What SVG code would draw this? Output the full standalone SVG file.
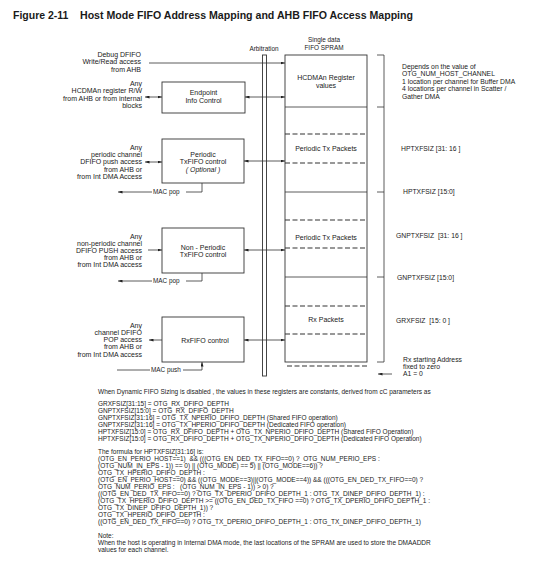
<svg xmlns="http://www.w3.org/2000/svg" width="554" height="565" viewBox="0 0 554 565">
<defs>
<style>
text{font-family:"Liberation Sans",Arial,sans-serif;fill:#1a1a1a;white-space:pre}
.t{font-size:7px}
.r{font-size:6.8px}
.s{font-size:6.4px}
.b{font-size:6.5px}
.e{text-anchor:end}
.m{text-anchor:middle}
.ln{stroke:#333;stroke-width:0.8;fill:none}
.box{stroke:#333;stroke-width:0.9;fill:#fff}
.dash{stroke:#333;stroke-width:1.1;stroke-dasharray:5 2.5;fill:none}
.a1{marker-end:url(#ah)}
.a2{marker-start:url(#ah);marker-end:url(#ah)}
</style>
<marker id="ah" viewBox="0 0 6 4" refX="6" refY="2" markerWidth="4.5" markerHeight="3" markerUnits="userSpaceOnUse" orient="auto-start-reverse"><path d="M0,0 L6,2 L0,4 z" fill="#222"/></marker>
</defs>
<rect width="554" height="565" fill="#fff"/>
<g id="title">
<text x="13" y="19" style="font-size:10.5px;font-weight:bold">Figure 2-11</text>
<text x="80" y="19" style="font-size:10.5px;font-weight:bold" textLength="333" lengthAdjust="spacingAndGlyphs">Host Mode FIFO Address Mapping and AHB FIFO Access Mapping</text>
</g>
<g id="arbitration">
<text class="s m" x="264" y="51">Arbitration</text>
<rect class="box" x="262.5" y="55" width="4" height="321"/>
</g>
<g id="spram">
<text class="s m" x="324" y="42">Single data</text>
<text class="s m" x="324" y="50">FIFO SPRAM</text>
<rect class="box" x="285" y="55" width="82" height="307"/>
<path class="ln" d="M285,107H367M285,192H367M285,277H367"/>
<path class="dash" d="M285,134H367M285,163H367M285,220H367M285,248H367M285,306H367M285,334H367M287,366H367"/>
<text class="t m" x="326" y="80">HCDMAn Register</text>
<text class="t m" x="326" y="88">values</text>
<text class="t m" x="326" y="150.5">Periodic Tx Packets</text>
<text class="t m" x="326" y="239.5">Periodic Tx Packets</text>
<text class="t m" x="326" y="321.5">Rx Packets</text>
</g>
<g id="bracket">
<path class="ln" d="M377,55H384V362H377M377,107H384M377,192H384M377,277H384"/>
<text class="r" x="402" y="68.5">Depends on the value of</text>
<text class="r" x="402" y="76">OTG_NUM_HOST_CHANNEL</text>
<text class="r" x="402" y="83.5">1 location per channel for Buffer DMA</text>
<text class="r" x="402" y="91">4 locations per channel in Scatter /</text>
<text class="r" x="402" y="98.5">Gather DMA</text>
<text class="r" x="401" y="150.5">HPTXFSIZ [31: 16 ]</text>
<text class="r" x="403" y="193.5">HPTXFSIZ [15:0]</text>
<text class="r" x="396" y="237.5">GNPTXFSIZ  [31: 16 ]</text>
<text class="r" x="397" y="279.5">GNPTXFSIZ [15:0]</text>
<text class="r" x="396" y="322.5">GRXFSIZ  [15: 0 ]</text>
<text class="r" x="403" y="361.5">Rx starting Address</text>
<text class="r" x="403" y="369">fixed to zero</text>
<text class="r" x="403" y="376">A1 = 0</text>
</g>
<g id="debug">
<text class="t e" x="141" y="56.5">Debug DFIFO</text>
<text class="t e" x="141" y="64">Write/Read access</text>
<text class="t e" x="141" y="71.5">from AHB</text>
</g>
<g id="endpoint">
<rect class="box" x="162" y="82" width="83" height="31"/>
<text class="t m" x="203.5" y="94.5">Endpoint</text>
<text class="t m" x="203.5" y="102.5">Info Control</text>
<text class="t e" x="142" y="85.5">Any</text>
<text class="t e" x="142" y="93">HCDMAn register R/W</text>
<text class="t e" x="142" y="100.5">from AHB or from internal</text>
<text class="t e" x="142" y="108">blocks</text>
</g>
<g id="periodic">
<rect class="box" x="162" y="139" width="82" height="44"/>
<text class="t m" x="203" y="156.5">Periodic</text>
<text class="t m" x="203" y="164">TxFIFO control</text>
<text class="t m" x="203" y="171.5" style="font-style:italic">( Optional )</text>
<text class="t e" x="142" y="149.5">Any</text>
<text class="t e" x="142" y="156.5">periodic channel</text>
<text class="t e" x="142" y="164">DFIFO push access</text>
<text class="t e" x="142" y="171.5">from AHB or</text>
<text class="t e" x="142" y="178.5">from Int DMA Access</text>
<text class="s" x="153" y="194.2">MAC pop</text>
</g>
<g id="nonperiodic">
<rect class="box" x="162" y="228" width="82" height="45"/>
<text class="t m" x="203" y="249.5">Non - Periodic</text>
<text class="t m" x="203" y="257">TxFIFO control</text>
<text class="t e" x="142" y="238.5">Any</text>
<text class="t e" x="142" y="245.5">non-periodic channel</text>
<text class="t e" x="142" y="252.5">DFIFO PUSH access</text>
<text class="t e" x="142" y="259.5">from AHB or</text>
<text class="t e" x="142" y="266.5">from Int DMA access</text>
<text class="s" x="153" y="283.2">MAC pop</text>
</g>
<g id="rxfifo">
<rect class="box" x="162" y="317" width="82" height="45"/>
<text class="t m" x="205" y="342.5">RxFIFO control</text>
<text class="t e" x="142" y="327.5">Any</text>
<text class="t e" x="142" y="334.5">channel DFIFO</text>
<text class="t e" x="142" y="342">POP access</text>
<text class="t e" x="142" y="349">from AHB or</text>
<text class="t e" x="142" y="356.5">from Int DMA access</text>
<text class="s" x="151" y="372.2">MAC push</text>
</g>
<g id="connectors">
<path class="ln a1" d="M149,63H285"/>
<path class="ln a2" d="M145,97H162"/>
<path class="ln a2" d="M245,97H285"/>
<path class="ln a2" d="M145,162H162"/>
<path class="ln a2" d="M244,161H285"/>
<path class="ln" d="M202,183V192H186"/>
<path class="ln a1" d="M152,192H118"/>
<path class="ln a1" d="M148,250H162"/>
<path class="ln a2" d="M244,250H285"/>
<path class="ln" d="M202,273V281H186"/>
<path class="ln a1" d="M152,281H118"/>
<path class="ln a1" d="M162,340H149"/>
<path class="ln a2" d="M244,340H285"/>
<path class="ln" d="M117,370H150"/>
<path class="ln a1" d="M183,370H202V362"/>
<path class="ln a1" d="M392,374H378"/>
</g>
<g id="notes">
<text class="b" x="98" y="394">When Dynamic FIFO Sizing is disabled , the values in these registers are constants, derived from cC parameters as</text>
<text class="b" x="98" y="406">GRXFSIZ[31:15] = OTG_RX_DFIFO_DEPTH</text>
<text class="b" x="98" y="413">GNPTXFSIZ[15:0] = OTG_RX_DFIFO_DEPTH</text>
<text class="b" x="98" y="420">GNPTXFSIZ[31:16] = OTG_TX_NPERIO_DFIFO_DEPTH (Shared FIFO operation)</text>
<text class="b" x="98" y="427">GNPTXFSIZ[31:16] = OTG_TX_HPERIO_DFIFO_DEPTH (Dedicated FIFO operation)</text>
<text class="b" x="98" y="434">HPTXFSIZ[15:0] = OTG_RX_DFIFO_DEPTH + OTG_TX_NPERIO_DFIFO_DEPTH (Shared FIFO Operation)</text>
<text class="b" x="98" y="441">HPTXFSIZ[15:0] = OTG_RX_DFIFO_DEPTH + OTG_TX_NPERIO_DFIFO_DEPTH (Dedicated FIFO Operation)</text>
<text class="b" x="98" y="454">The formula for HPTXFSIZ[31:16] is:</text>
<text class="b" x="98" y="461">(OTG_EN_PERIO_HOST==1)  &amp;&amp; (((OTG_EN_DED_TX_FIFO==0) ?  OTG_NUM_PERIO_EPS :</text>
<text class="b" x="98" y="468">(OTG_NUM_IN_EPS - 1)) == 0) || (OTG_MODE) == 5) || (OTG_MODE==6)) ?</text>
<text class="b" x="98" y="475">OTG_TX_HPERIO_DFIFO_DEPTH :</text>
<text class="b" x="98" y="482">(OTG_EN_PERIO_HOST==0) &amp;&amp; ((OTG_MODE==3)||(OTG_MODE==4)) &amp;&amp; (((OTG_EN_DED_TX_FIFO==0) ?</text>
<text class="b" x="98" y="489">OTG_NUM_PERIO_EPS :   (OTG_NUM_IN_EPS - 1)) &gt; 0) ?</text>
<text class="b" x="98" y="496">((OTG_EN_DED_TX_FIFO==0) ? OTG_TX_DPERIO_DFIFO_DEPTH_1 : OTG_TX_DINEP_DFIFO_DEPTH_1) :</text>
<text class="b" x="98" y="503">(OTG_TX_HPERIO_DFIFO_DEPTH &gt;= ((OTG_EN_DED_TX_FIFO ==0) ? OTG_TX_DPERIO_DFIFO_DEPTH_1 :</text>
<text class="b" x="98" y="510">OTG_TX_DINEP_DFIFO_DEPTH_1)) ?</text>
<text class="b" x="98" y="517">OTG_TX_HPERIO_DFIFO_DEPTH :</text>
<text class="b" x="98" y="524">((OTG_EN_DED_TX_FIFO==0) ? OTG_TX_DPERIO_DFIFO_DEPTH_1 : OTG_TX_DINEP_DFIFO_DEPTH_1)</text>
<text class="b" x="98" y="538">Note:</text>
<text class="b" x="98" y="545">When the host is operating in Internal DMA mode, the last locations of the SPRAM are used to store the DMAADDR</text>
<text class="b" x="98" y="552">values for each channel.</text>
</g>
</svg>
